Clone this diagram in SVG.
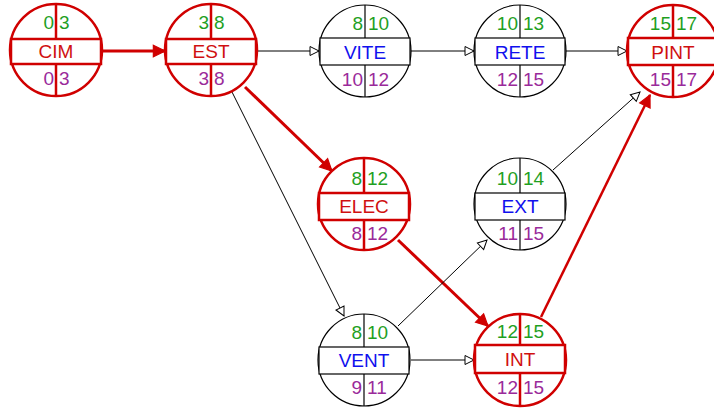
<svg xmlns="http://www.w3.org/2000/svg" width="714" height="409" viewBox="0 0 714 409">
<style>
text{font-family:"Liberation Sans",Arial,sans-serif;font-size:19px}
.es{fill:#1fa01f;text-anchor:end}
.ss{fill:#1fa01f;text-anchor:start}
.el{fill:#9a2a9a;text-anchor:end}
.sl{fill:#9a2a9a;text-anchor:start}
.nr{fill:#d01010;text-anchor:middle}
.nb{fill:#1010ee;text-anchor:middle}
.crit circle,.crit rect,.crit line{stroke:#d00000;stroke-width:2.5;fill:#fff}
.norm circle,.norm rect,.norm line{stroke:#000;stroke-width:1.2;fill:#fff}
.crit line,.norm line{fill:none}
.ec{stroke:#d00000;stroke-width:3;fill:none}
.ec2{stroke:#d00000;stroke-width:2.5;fill:none}
.en{stroke:#000;stroke-width:1;fill:none}
</style>
<defs>
<marker id="ar" markerUnits="userSpaceOnUse" markerWidth="14" markerHeight="14" viewBox="0 0 12 12" refX="11" refY="6" orient="auto">
<path d="M1,1 L11,6 L1,11 z" fill="#d00000" stroke="#d00000" stroke-width="1"/>
</marker>
<marker id="ab" markerUnits="userSpaceOnUse" markerWidth="11" markerHeight="11" viewBox="0 0 11 11" refX="10" refY="5.5" orient="auto">
<path d="M1,1 L10,5.5 L1,10 z" fill="#fff" stroke="#000" stroke-width="1"/>
</marker>
</defs>
<g id="connectors">
<line class="ec" x1="102" y1="51" x2="165" y2="51" marker-end="url(#ar)"/>
<line class="en" x1="257" y1="51" x2="319" y2="51" marker-end="url(#ab)"/>
<line class="en" x1="411" y1="51" x2="474" y2="51" marker-end="url(#ab)"/>
<line class="en" x1="566" y1="51" x2="627" y2="51" marker-end="url(#ab)"/>
<line class="ec" x1="245" y1="87" x2="332" y2="171" marker-end="url(#ar)"/>
<line class="en" x1="232" y1="92" x2="344" y2="316" marker-end="url(#ab)"/>
<line class="ec" x1="398" y1="240" x2="488" y2="326" marker-end="url(#ar)"/>
<line class="en" x1="398" y1="326" x2="487" y2="240" marker-end="url(#ab)"/>
<line class="en" x1="411" y1="360" x2="474" y2="360" marker-end="url(#ab)"/>
<line class="en" x1="553" y1="170" x2="640" y2="92" marker-end="url(#ab)"/>
<line class="ec2" x1="541" y1="317" x2="650" y2="95" marker-end="url(#ar)"/>
</g>
<g id="CIM" class="crit" transform="translate(56,50)">
<circle r="46"/><rect x="-45" y="-11" width="90" height="25"/><line x1="0" y1="-46" x2="0" y2="-11"/><line x1="0" y1="14" x2="0" y2="46"/>
<text class="es" x="-2" y="-21">0</text><text class="ss" x="3" y="-21">3</text>
<text class="nr" x="0" y="8">CIM</text>
<text class="el" x="-2" y="35">0</text><text class="sl" x="3" y="35">3</text>
</g>
<g id="EST" class="crit" transform="translate(211,50)">
<circle r="46"/><rect x="-45" y="-11" width="90" height="25"/><line x1="0" y1="-46" x2="0" y2="-11"/><line x1="0" y1="14" x2="0" y2="46"/>
<text class="es" x="-2" y="-21">3</text><text class="ss" x="3" y="-21">8</text>
<text class="nr" x="0" y="8">EST</text>
<text class="el" x="-2" y="35">3</text><text class="sl" x="3" y="35">8</text>
</g>
<g id="VITE" class="norm" transform="translate(365,51)">
<circle r="46"/><rect x="-45" y="-13" width="90" height="27"/><line x1="0" y1="-46" x2="0" y2="-13"/><line x1="0" y1="14" x2="0" y2="46"/>
<text class="es" x="-2" y="-21">8</text><text class="ss" x="3" y="-21">10</text>
<text class="nb" x="0" y="8">VITE</text>
<text class="el" x="-2" y="35">10</text><text class="sl" x="3" y="35">12</text>
</g>
<g id="RETE" class="norm" transform="translate(520,51)">
<circle r="46"/><rect x="-45" y="-13" width="90" height="27"/><line x1="0" y1="-46" x2="0" y2="-13"/><line x1="0" y1="14" x2="0" y2="46"/>
<text class="es" x="-2" y="-21">10</text><text class="ss" x="3" y="-21">13</text>
<text class="nb" x="0" y="8">RETE</text>
<text class="el" x="-2" y="35">12</text><text class="sl" x="3" y="35">15</text>
</g>
<g id="PINT" class="crit" transform="translate(673,51)">
<circle r="46"/><rect x="-45" y="-13" width="90" height="27"/><line x1="0" y1="-46" x2="0" y2="-13"/><line x1="0" y1="14" x2="0" y2="46"/>
<text class="es" x="-2" y="-21">15</text><text class="ss" x="3" y="-21">17</text>
<text class="nr" x="0" y="8">PINT</text>
<text class="el" x="-2" y="35">15</text><text class="sl" x="3" y="35">17</text>
</g>
<g id="ELEC" class="crit" transform="translate(364,204)">
<circle r="46"/><rect x="-45" y="-11" width="90" height="27"/><line x1="0" y1="-46" x2="0" y2="-11"/><line x1="0" y1="16" x2="0" y2="46"/>
<text class="es" x="-2" y="-19">8</text><text class="ss" x="3" y="-19">12</text>
<text class="nr" x="0" y="9">ELEC</text>
<text class="el" x="-2" y="36">8</text><text class="sl" x="3" y="36">12</text>
</g>
<g id="EXT" class="norm" transform="translate(520,204)">
<circle r="46"/><rect x="-45" y="-11" width="90" height="27"/><line x1="0" y1="-46" x2="0" y2="-11"/><line x1="0" y1="16" x2="0" y2="46"/>
<text class="es" x="-2" y="-19">10</text><text class="ss" x="3" y="-19">14</text>
<text class="nb" x="0" y="9">EXT</text>
<text class="el" x="-2" y="36">11</text><text class="sl" x="3" y="36">15</text>
</g>
<g id="VENT" class="norm" transform="translate(364,360)">
<circle r="46"/><rect x="-45" y="-13" width="90" height="27"/><line x1="0" y1="-46" x2="0" y2="-13"/><line x1="0" y1="14" x2="0" y2="46"/>
<text class="es" x="-2" y="-21">8</text><text class="ss" x="3" y="-21">10</text>
<text class="nb" x="0" y="7">VENT</text>
<text class="el" x="-2" y="34">9</text><text class="sl" x="3" y="34">11</text>
</g>
<g id="INT" class="crit" transform="translate(520,360)">
<circle r="46"/><rect x="-45" y="-15" width="90" height="28"/><line x1="0" y1="-46" x2="0" y2="-15"/><line x1="0" y1="13" x2="0" y2="46"/>
<text class="es" x="-2" y="-22">12</text><text class="ss" x="3" y="-22">15</text>
<text class="nr" x="0" y="6">INT</text>
<text class="el" x="-2" y="34">12</text><text class="sl" x="3" y="34">15</text>
</g>
</svg>
